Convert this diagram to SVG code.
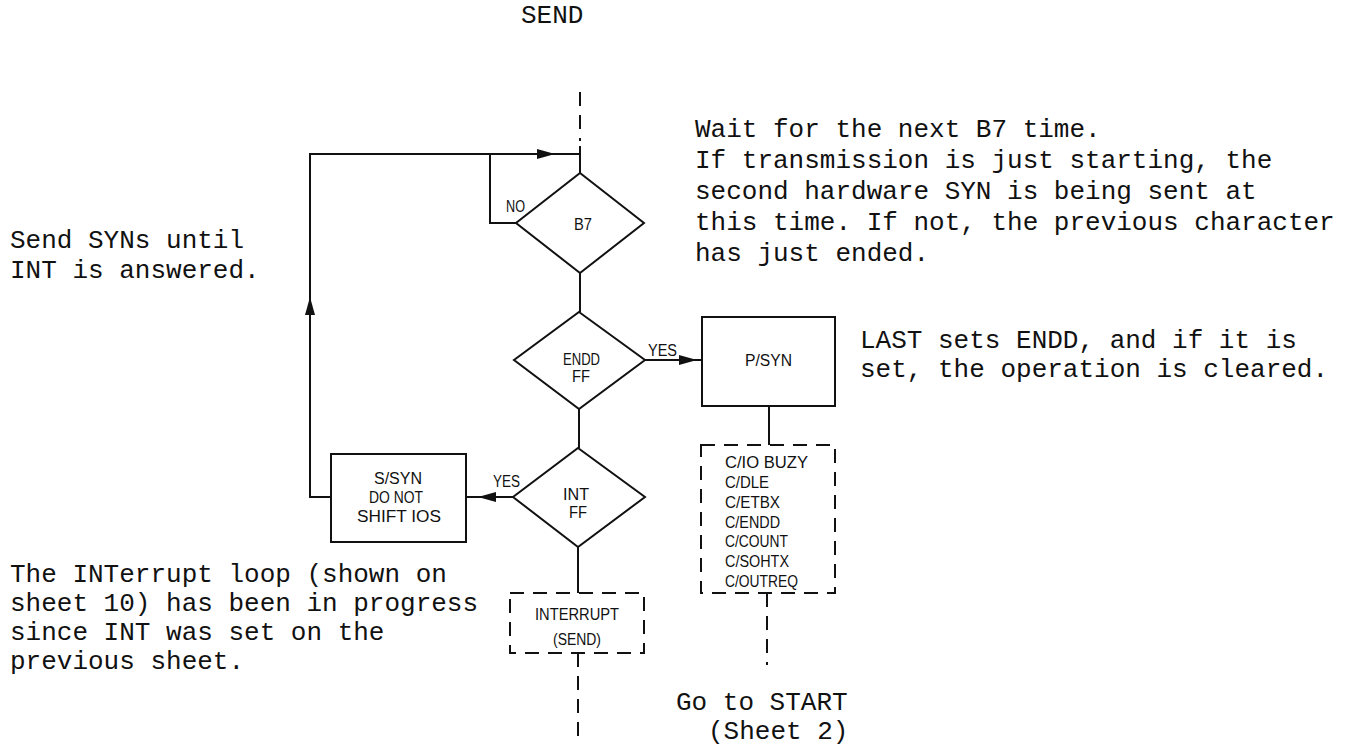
<svg xmlns="http://www.w3.org/2000/svg" width="1368" height="756" viewBox="0 0 1368 756">
<style>
.ln{fill:none;stroke:#111;stroke-width:2}
.dash{fill:none;stroke:#111;stroke-width:2;stroke-dasharray:14 9}
.shape{fill:#fff;stroke:#111;stroke-width:2}
.dbox{fill:#fff;stroke:#111;stroke-width:2;stroke-dasharray:14 9}
.lbl{font-family:"Liberation Sans",Arial,sans-serif;font-size:16px;fill:#111}
.tw{font-family:"Liberation Mono","Courier New",monospace;font-size:26px;fill:#111}
</style>
<defs>
<marker id="arr" viewBox="0 0 18 10" refX="18" refY="5" markerWidth="18" markerHeight="10" markerUnits="userSpaceOnUse" orient="auto">
<path d="M0,0 L18,5 L0,10 z" fill="#111"/>
</marker>
</defs>
<rect width="1368" height="756" fill="#fff"/>

<g id="connectors">
<path class="dash" d="M580,92 V141"/>
<path class="ln" d="M580,146 V173"/>
<path class="ln" d="M331,497 H310 V297" marker-end="url(#arr)"/>
<path class="ln" d="M310,297 V154 H555" marker-end="url(#arr)"/>
<path class="ln" d="M555,154 H580"/>
<path class="ln" d="M517,223 H490 V154"/>
<path class="ln" d="M580,273 V312"/>
<path class="ln" d="M645,360 H697" marker-end="url(#arr)"/>
<path class="ln" d="M697,360 H702"/>
<path class="ln" d="M579,409 V448"/>
<path class="ln" d="M513,497 H478" marker-end="url(#arr)"/>
<path class="ln" d="M478,497 H466"/>
<path class="ln" d="M578,547 V593"/>
<path class="dash" d="M578,653 V740"/>
<path class="ln" d="M769,406 V445"/>
<path class="dash" d="M767,593 V665"/>
<text class="lbl" x="506" y="212" textLength="19" lengthAdjust="spacingAndGlyphs">NO</text>
<text class="lbl" x="648" y="356" textLength="29" lengthAdjust="spacingAndGlyphs">YES</text>
<text class="lbl" x="493" y="487" textLength="27" lengthAdjust="spacingAndGlyphs">YES</text>
</g>

<g id="title">
<text class="tw" x="521" y="23">SEND</text>
</g>

<g id="b7">
<polygon class="shape" points="580,173 644,223 580,273 516,223"/>
<text class="lbl" x="574" y="230" textLength="18" lengthAdjust="spacingAndGlyphs">B7</text>
</g>

<g id="endd">
<polygon class="shape" points="579,312 645,360 579,409 514,360"/>
<text class="lbl" x="563" y="365" textLength="37" lengthAdjust="spacingAndGlyphs">ENDD</text>
<text class="lbl" x="572" y="382" textLength="18" lengthAdjust="spacingAndGlyphs">FF</text>
</g>

<g id="int">
<polygon class="shape" points="578,448 645,497 578,547 513,497"/>
<text class="lbl" x="563" y="500" textLength="26" lengthAdjust="spacingAndGlyphs">INT</text>
<text class="lbl" x="569" y="518" textLength="18" lengthAdjust="spacingAndGlyphs">FF</text>
</g>

<g id="psyn">
<rect class="shape" x="702" y="317" width="133" height="89"/>
<text class="lbl" x="745" y="366" textLength="47" lengthAdjust="spacingAndGlyphs">P/SYN</text>
</g>

<g id="clear">
<rect class="dbox" x="701" y="445" width="134" height="148"/>
<text class="lbl" x="725" y="468" textLength="83" lengthAdjust="spacingAndGlyphs">C/IO BUZY</text>
<text class="lbl" x="725" y="488" textLength="44" lengthAdjust="spacingAndGlyphs">C/DLE</text>
<text class="lbl" x="725" y="508" textLength="55" lengthAdjust="spacingAndGlyphs">C/ETBX</text>
<text class="lbl" x="725" y="528" textLength="55" lengthAdjust="spacingAndGlyphs">C/ENDD</text>
<text class="lbl" x="725" y="547" textLength="63" lengthAdjust="spacingAndGlyphs">C/COUNT</text>
<text class="lbl" x="725" y="567" textLength="64" lengthAdjust="spacingAndGlyphs">C/SOHTX</text>
<text class="lbl" x="725" y="587" textLength="73" lengthAdjust="spacingAndGlyphs">C/OUTREQ</text>
</g>

<g id="ssyn">
<rect class="shape" x="331" y="454" width="135" height="88"/>
<text class="lbl" x="374" y="484" textLength="48" lengthAdjust="spacingAndGlyphs">S/SYN</text>
<text class="lbl" x="369" y="503" textLength="54" lengthAdjust="spacingAndGlyphs">DO NOT</text>
<text class="lbl" x="357" y="522" textLength="84" lengthAdjust="spacingAndGlyphs">SHIFT IOS</text>
</g>

<g id="interrupt">
<rect class="dbox" x="510" y="593" width="134" height="60"/>
<text class="lbl" x="535" y="620" textLength="84" lengthAdjust="spacingAndGlyphs">INTERRUPT</text>
<text class="lbl" x="553" y="645" textLength="48" lengthAdjust="spacingAndGlyphs">(SEND)</text>
</g>

<g id="note-wait">
<text class="tw" x="695" y="137">Wait for the next B7 time.</text>
<text class="tw" x="695" y="168">If transmission is just starting, the</text>
<text class="tw" x="695" y="199">second hardware SYN is being sent at</text>
<text class="tw" x="695" y="230">this time. If not, the previous character</text>
<text class="tw" x="695" y="261">has just ended.</text>
</g>

<g id="note-syn">
<text class="tw" x="10" y="248">Send SYNs until</text>
<text class="tw" x="10" y="278">INT is answered.</text>
</g>

<g id="note-last">
<text class="tw" x="860" y="348">LAST sets ENDD, and if it is</text>
<text class="tw" x="860" y="377">set, the operation is cleared.</text>
</g>

<g id="note-int">
<text class="tw" x="10" y="582">The INTerrupt loop (shown on</text>
<text class="tw" x="10" y="611">sheet 10) has been in progress</text>
<text class="tw" x="10" y="640">since INT was set on the</text>
<text class="tw" x="10" y="669">previous sheet.</text>
</g>

<g id="note-goto">
<text class="tw" x="676" y="710">Go to START</text>
<text class="tw" x="708" y="739">(Sheet 2)</text>
</g>
</svg>
